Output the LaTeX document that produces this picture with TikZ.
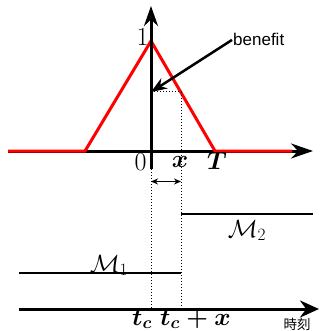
\documentclass[tikz,border=0pt]{standalone}
\usepackage{fontspec}
\newfontfamily\sansf{Liberation Sans}
\newfontfamily\cjk{Noto Sans CJK JP}
\usetikzlibrary{arrows.meta}
\begin{document}
\begin{tikzpicture}[x=1pt,y=-1pt,
  axisline/.style={line width=3pt},
  redline/.style={line width=3pt, red, line join=miter},
  dotline/.style={line width=1pt, dash pattern=on 1pt off 2pt},
  mline/.style={line width=2pt},
  lab/.style={font=\fontsize{25}{28}\selectfont, inner sep=0pt},
  blab/.style={font=\fontsize{24}{28}\selectfont\boldmath, inner sep=0pt},
  dlab/.style={font=\fontsize{26}{30}\selectfont, inner sep=0pt},
  bigtip/.tip={Stealth[length=22pt,width=15pt]},
  smalltip/.tip={Stealth[length=7pt,width=6pt]}]
\useasboundingbox (0,0) rectangle (322,331);
% coordinates
\coordinate (hl) at (8,151);
\coordinate (hr) at (313,151);
\coordinate (vb) at (151,169);
\coordinate (vt) at (151,6);
\coordinate (r1) at (85,151);
\coordinate (peak) at (151,41);
\coordinate (rT) at (215,151);
\coordinate (r2) at (292,151);
\coordinate (by) at (151,92);
\coordinate (bx) at (181,92);
\coordinate (dxb) at (181,308);
\coordinate (d0b) at (151,308);
\coordinate (da) at (151,181.5);
\coordinate (db) at (181,181.5);
\coordinate (m2a) at (181,214);
\coordinate (m2b) at (313,214);
\coordinate (m1a) at (19,273);
\coordinate (m1b) at (181,273);
\coordinate (tl) at (19,309);
\coordinate (tr) at (319,309);
% top axes
\draw[axisline, -{bigtip}] (hl) -- (hr);
\draw[redline] (hl) -- (r1) -- (peak) -- (rT) -- (r2);
\draw[axisline, -{Stealth[length=20pt,width=14pt]}] (vb) -- (vt);
% dotted guides
\draw[dotline] (by) -- (bx) -- (dxb);
\draw[dotline] (vb) -- (d0b);
% benefit
\node[font=\sansf\fontsize{17}{20}\selectfont, anchor=base west, inner sep=1pt] (ben) at (232,46) {benefit};
\draw[line width=2.5pt, -{Stealth[length=16pt,width=12pt]}] (ben.west) -- (by);
% labels
\node[dlab, anchor=base] (one) at (142.5,46) {1};
\node[dlab, anchor=base] (zero) at (140.5,170) {0};
\node[blab, anchor=base] (xl) at (180,167) {$x$};
\node[blab, anchor=base] (Tl) at (217,169) {$T$};
% double arrow
\draw[line width=1.2pt, {smalltip}-{smalltip}] (da) -- (db);
% M lines
\draw[mline] (m2a) -- (m2b);
\draw[mline] (m1a) -- (m1b);
\node[lab, anchor=base] (M2) at (247,237) {$\mathcal{M}_2$};
\node[lab, anchor=base] (M1) at (109,272) {$\mathcal{M}_1$};
% time axis
\draw[axisline, -{Stealth[length=19pt,width=17pt]}] (tl) -- (tr);
\node[blab, anchor=base west] (tc) at (132,325) {$t_c$};
\node[blab, anchor=base west] (tcx) at (160,325) {$t_c+x$};
\node[font=\cjk\fontsize{13.5}{16}\selectfont, inner sep=0pt] (jikoku) at (297,324) {時刻};
\end{tikzpicture}
\end{document}
